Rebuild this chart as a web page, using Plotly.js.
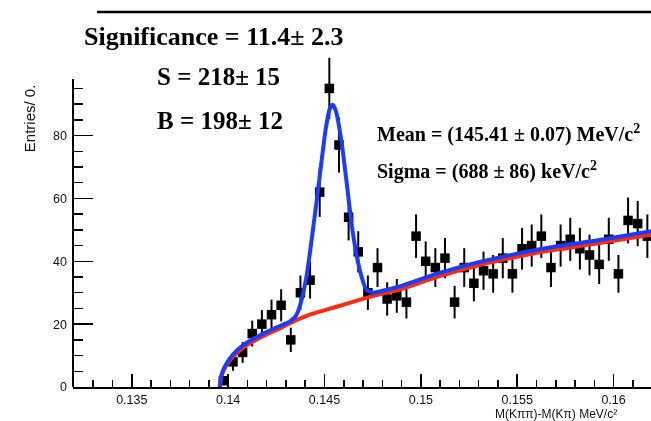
<!DOCTYPE html>
<html>
<head>
<meta charset="utf-8">
<script src="https://cdn.plot.ly/plotly-3.0.1.min.js"></script>
<style>
  html, body { margin: 0; padding: 0; background: #fff; }
  #plot { width: 651px; height: 421px; filter: blur(0.4px); }
</style>
</head>
<body>
<div id="plot"></div>
<script>
// Delta-M distribution: M(K pi pi) - M(K pi), bins of 0.0005
const binCenters = [0.13975, 0.14025, 0.14075, 0.14125, 0.14175, 0.14225, 0.14275, 0.14325,
  0.14375, 0.14425, 0.14475, 0.14525, 0.14575, 0.14625, 0.14675, 0.14725, 0.14775,
  0.14825, 0.14875, 0.14925, 0.14975, 0.15025, 0.15075, 0.15125, 0.15175, 0.15225,
  0.15275, 0.15325, 0.15375, 0.15425, 0.15475, 0.15525, 0.15575, 0.15625, 0.15675,
  0.15725, 0.15775, 0.15825, 0.15875, 0.15925, 0.15975, 0.16025, 0.16075, 0.16125, 0.16175];
const entries = [2, 8, 11, 17, 20, 23, 26, 15, 30, 34, 62, 95, 77, 54, 43, 30, 38, 28, 29, 27,
  48, 40, 38, 41, 27, 38, 33, 37, 36, 41, 36, 44, 45, 48, 38, 45, 47, 44, 42, 39,
  47, 36, 53, 52, 48];

// Background component of the fit
const bkgX = [0.13956, 0.13966, 0.13987, 0.14023, 0.14075, 0.14163, 0.14252, 0.14335,
  0.14423, 0.14511, 0.14604, 0.14708, 0.14786, 0.14890, 0.15097, 0.15305, 0.15512,
  0.15668, 0.15927, 0.16200];
const bkgY = [0, 3.5, 6.5, 9.5, 12.4, 15.6, 18.2, 20.7, 23.0, 24.6, 26.3, 28.2, 29.5,
  31.0, 35.3, 38.8, 41.6, 43.4, 45.8, 48.5];

// Total fit: signal Gaussian on top of the background
const fitX = [0.13956, 0.13966, 0.13987, 0.14023, 0.14075, 0.14163, 0.14252, 0.14319,
  0.14350, 0.14371, 0.14406, 0.14440, 0.14475, 0.14506, 0.14527, 0.14542, 0.14558,
  0.14587, 0.14613, 0.14647, 0.14682, 0.14717, 0.14751, 0.14786, 0.14890, 0.15097,
  0.15305, 0.15512, 0.15668, 0.15927, 0.16200];
const fitY = [0, 4.0, 7.0, 10.2, 13.2, 16.4, 19.0, 20.8, 22.5, 25.5, 35.0, 50.0, 67.0,
  82.0, 88.5, 89.8, 88.0, 78.6, 66.0, 49.0, 37.5, 31.0, 30.0, 30.4, 32.0, 36.3, 39.8,
  42.6, 44.4, 46.8, 49.6];

const xTickVals = [0.135, 0.14, 0.145, 0.15, 0.155, 0.16];
const xTickText = ['0.135', '0.14', '0.145', '0.15', '0.155', '0.16'];
const yTickVals = [0, 20, 40, 60, 80];
const yMinorVals = [5, 10, 15, 25, 30, 35, 45, 50, 55, 65, 70, 75, 85, 90, 95];

const errors = entries.map(v => Math.sqrt(v));

const traces = [
  {
    type: 'scatter', mode: 'markers',
    x: binCenters, y: entries,
    marker: { symbol: 'square', size: 9.5, color: '#000' },
    error_y: { type: 'data', array: errors, visible: true, color: '#000', thickness: 2, width: 0 },
    hoverinfo: 'x+y', showlegend: false
  },
  {
    type: 'scatter', mode: 'lines',
    x: bkgX, y: bkgY,
    line: { color: '#ff2a10', width: 4, shape: 'spline', smoothing: 0.6 },
    showlegend: false
  },
  {
    type: 'scatter', mode: 'lines',
    x: fitX, y: fitY,
    line: { color: '#1a3cff', width: 4, shape: 'spline', smoothing: 0.6 },
    showlegend: false
  }
];

const sans = 'Liberation Sans, Arial, sans-serif';
const tickFont = { family: sans, size: 12.5, color: '#111' };
const serifBold = 'Liberation Serif, Times New Roman, serif';

const layout = {
  width: 651, height: 421,
  margin: { l: 73, r: 0, t: 13, b: 34 },
  paper_bgcolor: '#fff', plot_bgcolor: '#fff',
  showlegend: false,
  xaxis: {
    range: [0.13195, 0.16194],
    tickmode: 'array', tickvals: xTickVals, ticktext: xTickText,
    ticks: 'inside', ticklen: 13, tickwidth: 1.5, tickcolor: '#000',
    minor: { dtick: 0.001, tick0: 0.13, ticks: 'inside', ticklen: 7, tickwidth: 1.5, tickcolor: '#000' },
    showline: true, linecolor: '#000', linewidth: 2,
    showgrid: false, zeroline: false,
    tickfont: tickFont, ticklabelstandoff: 0
  },
  yaxis: {
    range: [0, 119],
    tickmode: 'array', tickvals: yTickVals,
    ticks: 'inside', ticklen: 20, tickwidth: 1.5, tickcolor: '#000',
    minor: { tickmode: 'array', tickvals: yMinorVals, ticks: 'inside', ticklen: 10, tickwidth: 1.5, tickcolor: '#000' },
    showline: false, showgrid: false, zeroline: false,
    tickfont: tickFont, ticklabelstandoff: 5
  },
  shapes: [
    { type: 'line', xref: 'paper', yref: 'y', x0: 0, x1: 0, y0: 0, y1: 98,
      line: { color: '#000', width: 2 } },
    { type: 'line', xref: 'paper', yref: 'paper', x0: 0.0415, x1: 1, y0: 1.003, y1: 1.003,
      line: { color: '#000', width: 2.5 } }
  ],
  annotations: [
    { xref: 'paper', yref: 'paper', x: 0.4706, y: 0.9385, xanchor: 'right', yanchor: 'middle',
      text: '<b>Significance = 11.4± 2.3</b>', showarrow: false,
      font: { family: serifBold, size: 26, color: '#000' } },
    { xref: 'paper', yref: 'paper', x: 0.1419, y: 0.8289, xanchor: 'left', yanchor: 'middle',
      text: '<b>S = 218± 15</b>', showarrow: false,
      font: { family: serifBold, size: 25, color: '#000' } },
    { xref: 'paper', yref: 'paper', x: 0.1419, y: 0.7139, xanchor: 'left', yanchor: 'middle',
      text: '<b>B = 198± 12</b>', showarrow: false,
      font: { family: serifBold, size: 25, color: '#000' } },
    { xref: 'paper', yref: 'paper', x: 0.5225, y: 0.6791, xanchor: 'left', yanchor: 'middle',
      text: '<b>Mean = (145.41 ± 0.07) MeV/c<sup>2</sup></b>', showarrow: false,
      font: { family: serifBold, size: 20, color: '#000' } },
    { xref: 'paper', yref: 'paper', x: 0.5225, y: 0.5802, xanchor: 'left', yanchor: 'middle',
      text: '<b>Sigma = (688 ± 86) keV/c<sup>2</sup></b>', showarrow: false,
      font: { family: serifBold, size: 20, color: '#000' } },
    { xref: 'paper', yref: 'paper', x: 0.7266, y: -0.0715, xanchor: 'left', yanchor: 'middle',
      text: 'M(Kππ)-M(Kπ) MeV/c²', showarrow: false,
      font: { family: sans, size: 12, color: '#111' } },
    { xref: 'paper', yref: 'paper', x: -0.0761, y: 0.815, xanchor: 'center', yanchor: 'top',
      text: 'Entries/ 0.', textangle: -90, showarrow: false,
      font: { family: sans, size: 15, color: '#111' } }
  ]
};

Plotly.newPlot('plot', traces, layout, { displayModeBar: false, staticPlot: true });
</script>
</body>
</html>
